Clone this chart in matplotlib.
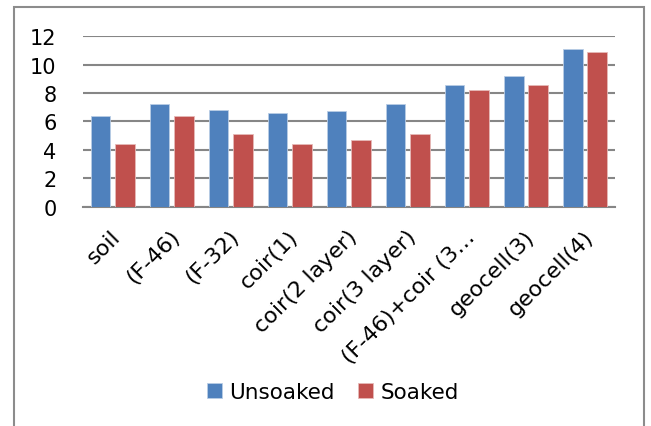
import matplotlib
matplotlib.use("Agg")
import matplotlib.pyplot as plt
import numpy as np
from matplotlib.patches import Rectangle
from matplotlib.transforms import ScaledTranslation

categories = ["soil", "(F-46)", "(F-32)", "coir(1)", "coir(2 layer)",
              "coir(3 layer)", "(F-46)+coir (3\u2026", "geocell(3)", "geocell(4)"]
unsoaked = [6.4, 7.2, 6.8, 6.6, 6.7, 7.2, 8.6, 9.2, 11.1]
soaked = [4.4, 6.4, 5.1, 4.4, 4.7, 5.1, 8.2, 8.6, 10.9]
yticks = [0, 2, 4, 6, 8, 10, 12]

plt.rcParams["font.family"] = ["DejaVu Sans"]

fig = plt.figure(figsize=(6.51, 4.27), dpi=100)
ax = fig.add_axes([0.1275, 0.514, 0.8165, 0.3986])

# chart frame
fig.patches.append(Rectangle((14 / 651, -0.05), (644 - 14) / 651, 1.05 - 8 / 427,
                             transform=fig.transFigure, fill=False,
                             edgecolor="#8c8c8c", linewidth=1.5))

x = np.arange(len(categories))
w = 0.332
gap = 0.041
blue = "#4f81bd"
red = "#c0504d"
ax.bar(x - w / 2 - gap, unsoaked, w, color=blue, edgecolor="#b9cde5",
       linewidth=0.6, label="Unsoaked", zorder=3)
ax.bar(x + w / 2 + gap, soaked, w, color=red, edgecolor="#e6b9b8",
       linewidth=0.6, label="Soaked", zorder=3)

ax.set_xlim(-0.5, len(categories) - 0.5)
ax.set_ylim(0, 12)
ax.set_yticks(yticks)
ax.set_yticklabels([str(v) for v in yticks], fontsize=15)
ax.yaxis.grid(True, color="#868686", linewidth=1.5, zorder=0)
ax.set_axisbelow(True)
ax.tick_params(axis="y", length=0, pad=19)
ax.tick_params(axis="x", length=0, pad=19)
ax.set_xticks(x)
ax.set_xticklabels(categories, rotation=45, ha="right", va="center",
                   rotation_mode="anchor", fontsize=16)
shift = ScaledTranslation(0.05, 0, fig.dpi_scale_trans)
for lab in ax.get_xticklabels():
    lab.set_transform(lab.get_transform() + shift)
for s in ["left", "right", "top"]:
    ax.spines[s].set_visible(False)
ax.spines["bottom"].set_color("#868686")
ax.spines["bottom"].set_linewidth(1.5)

fig.legend(loc="center", bbox_to_anchor=(333 / 651, 1 - 393 / 427), ncol=2,
           frameon=False, fontsize=15.5, handlelength=0.7, handleheight=0.7,
           handletextpad=0.35, columnspacing=1.1)

fig.savefig("out.png", dpi=100)
